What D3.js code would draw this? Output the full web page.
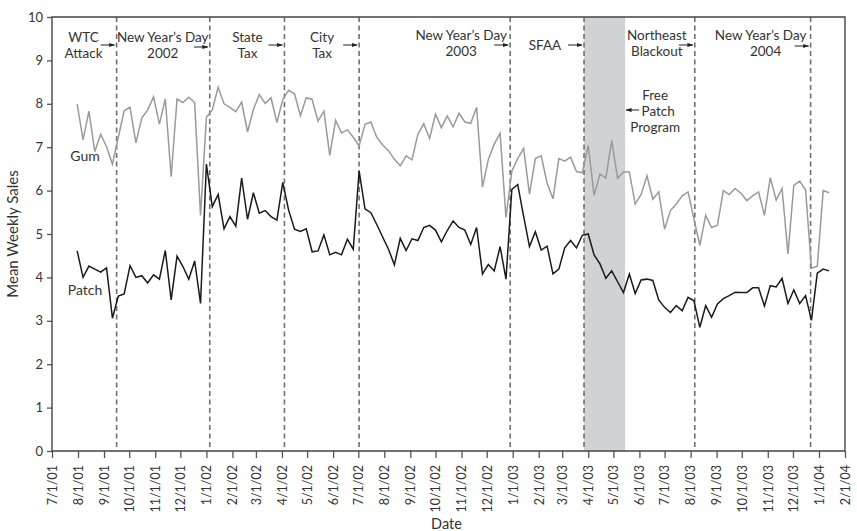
<!DOCTYPE html>
<html>
<head>
<meta charset="utf-8">
<script src="https://cdn.jsdelivr.net/npm/d3@7"></script>
<style>
    body { margin: 0; background: #fff; }
    svg text { font-family: Lato, "Open Sans", sans-serif; fill: #333; }
</style>
</head>
<body>
<div id="chart"></div>
<script>

// == DATA == //
// weekly series, first week starting 7/31/01
const firstWeek = "2001-07-31";

const gumSales = [
    7.99, 7.17, 7.83, 6.90, 7.30, 7.01, 6.61, 7.23, 7.84, 7.92,
    7.10, 7.67, 7.86, 8.16, 7.53, 8.11, 6.32, 8.11, 8.03, 8.15,
    8.03, 5.43, 7.69, 7.86, 8.38, 8.00, 7.92, 7.82, 8.04, 7.35,
    7.87, 8.21, 8.01, 8.14, 7.57, 8.10, 8.31, 8.23, 7.73, 8.14,
    8.10, 7.60, 7.83, 6.81, 7.62, 7.33, 7.40, 7.23, 7.03, 7.53,
    7.58, 7.23, 7.05, 6.92, 6.72, 6.57, 6.80, 6.71, 7.30, 7.54,
    7.20, 7.76, 7.45, 7.72, 7.47, 7.78, 7.58, 7.55, 7.92, 6.08,
    6.72, 7.07, 7.32, 5.38, 6.45, 6.74, 6.97, 5.92, 6.74, 6.80,
    6.17, 5.81, 6.74, 6.68, 6.77, 6.44, 6.41, 7.04, 5.89, 6.38,
    6.29, 7.15, 6.28, 6.43, 6.43, 5.69, 5.91, 6.34, 5.80, 5.97,
    5.11, 5.54, 5.69, 5.88, 5.97, 5.34, 4.74, 5.43, 5.15, 5.20,
    6.00, 5.91, 6.05, 5.94, 5.77, 5.88, 5.97, 5.43, 6.30, 5.78,
    6.05, 4.54, 6.12, 6.22, 6.02, 4.21, 4.26, 6.00, 5.95
];

const patchSales = [
    4.61, 4.00, 4.26, 4.19, 4.12, 4.22, 3.06, 3.57, 3.62, 4.27,
    4.00, 4.04, 3.87, 4.06, 3.96, 4.62, 3.48, 4.49, 4.25, 3.96,
    4.38, 3.40, 6.61, 5.63, 5.91, 5.12, 5.40, 5.18, 6.29, 5.34,
    5.95, 5.48, 5.54, 5.40, 5.32, 6.19, 5.55, 5.11, 5.06, 5.12,
    4.59, 4.61, 4.98, 4.52, 4.58, 4.52, 4.88, 4.65, 6.45, 5.58,
    5.49, 5.22, 4.93, 4.65, 4.29, 4.90, 4.62, 4.89, 4.85, 5.15,
    5.20, 5.09, 4.82, 5.08, 5.30, 5.15, 5.09, 4.76, 5.15, 4.08,
    4.30, 4.15, 4.71, 3.96, 6.03, 6.14, 5.41, 4.71, 5.05, 4.63,
    4.72, 4.08, 4.19, 4.68, 4.85, 4.68, 4.97, 5.00, 4.52, 4.31,
    3.98, 4.15, 3.90, 3.65, 4.08, 3.63, 3.94, 3.96, 3.93, 3.48,
    3.31, 3.19, 3.35, 3.23, 3.54, 3.46, 2.85, 3.35, 3.08, 3.39,
    3.51, 3.58, 3.66, 3.65, 3.65, 3.76, 3.76, 3.34, 3.81, 3.78,
    3.98, 3.40, 3.71, 3.40, 3.58, 3.01, 4.10, 4.19, 4.15
];

const xDomain = ["2001-07-01", "2004-02-01"];
const yTicks = [0, 1, 2, 3, 4, 5, 6, 7, 8, 9, 10];

const eventDates = ["2001-09-16", "2002-01-05", "2002-04-04", "2002-07-02",
    "2002-12-29", "2003-03-27", "2003-08-06", "2003-12-22"];
const eventLabels = [
    ["WTC", "Attack"], ["New Year\u2019s Day", "2002"], ["State", "Tax"], ["City", "Tax"],
    ["New Year\u2019s Day", "2003"], ["SFAA"], ["Northeast", "Blackout"], ["New Year\u2019s Day", "2004"]
];

const freePatchDates = ["2003-03-27", "2003-05-15"];
const freePatchLabel = ["Free", "Patch", "Program"];

const seriesNames = ["Gum", "Patch"];


class SalesChart {

    constructor(parentElement) {
        this.parentElement = parentElement;
        this.parse = d3.timeParse("%Y-%m-%d");
        this.initVis();
    }

    initVis() {
        let vis = this;

        vis.margin = {top: 17, right: 12, bottom: 80, left: 52};
        vis.width = 857 - vis.margin.left - vis.margin.right;
        vis.height = 531 - vis.margin.top - vis.margin.bottom;

        vis.svg = d3.select("#" + vis.parentElement).append("svg")
            .attr("width", 857)
            .attr("height", 531)
            .append("g")
            .attr("transform", `translate(${vis.margin.left}, ${vis.margin.top})`);

        // arrow head
        vis.svg.append("defs").append("marker")
            .attr("id", "arrow")
            .attr("viewBox", "0 0 10 10")
            .attr("refX", 9).attr("refY", 5)
            .attr("markerWidth", 6).attr("markerHeight", 6)
            .attr("orient", "auto-start-reverse")
            .append("path")
            .attr("d", "M0,1.5L10,5L0,8.5z")
            .attr("fill", "#222");

        // scales
        vis.x = d3.scaleTime()
            .domain(xDomain.map(vis.parse))
            .range([0, vis.width]);

        vis.y = d3.scaleLinear()
            .domain([0, 10])
            .range([vis.height, 0]);

        vis.wrangleData();
    }

    wrangleData() {
        let vis = this;
        let start = vis.parse(firstWeek);

        vis.gum = gumSales.map((v, i) => ({date: d3.timeDay.offset(start, 7 * i), value: v}));
        vis.patch = patchSales.map((v, i) => ({date: d3.timeDay.offset(start, 7 * i), value: v}));

        vis.updateVis();
    }

    updateVis() {
        let vis = this;

        // == SHADED FREE PATCH PERIOD == //
        let fp = freePatchDates.map(vis.parse);
        vis.svg.append("rect")
            .attr("x", vis.x(fp[0]))
            .attr("y", 0)
            .attr("width", vis.x(fp[1]) - vis.x(fp[0]))
            .attr("height", vis.height)
            .attr("fill", "#d1d2d4");

        // == EVENT LINES == //
        vis.svg.selectAll(".event-line")
            .data(eventDates.map(vis.parse))
            .enter().append("line")
            .attr("class", "event-line")
            .attr("x1", d => vis.x(d)).attr("x2", d => vis.x(d))
            .attr("y1", 0).attr("y2", vis.height)
            .attr("stroke", "#707070")
            .attr("stroke-width", 1.6)
            .attr("stroke-dasharray", "5,3.5");

        // == AXES == //
        let yAxis = d3.axisLeft(vis.y)
            .tickValues(yTicks)
            .tickSize(5)
            .tickPadding(4);

        let yG = vis.svg.append("g").attr("class", "y-axis").call(yAxis);
        yG.select(".domain").remove();
        yG.selectAll("line").attr("stroke", "#555").attr("stroke-width", 1.3);
        yG.selectAll("text").style("font-size", "13px").attr("fill", "#333");

        let xAxis = d3.axisBottom(vis.x)
            .ticks(d3.timeMonth.every(1))
            .tickFormat(d3.timeFormat("%-m/%-d/%y"))
            .tickSize(7);

        let xG = vis.svg.append("g").attr("class", "x-axis")
            .attr("transform", `translate(0, ${vis.height})`)
            .call(xAxis);
        xG.select(".domain").remove();
        xG.selectAll("line").attr("stroke", "#555").attr("stroke-width", 1.3);
        xG.selectAll("text")
            .style("font-size", "12.5px")
            .attr("fill", "#333")
            .attr("transform", "rotate(-90)")
            .attr("x", -14)
            .attr("y", 0)
            .attr("dy", ".35em")
            .attr("text-anchor", "end");

        // frame
        vis.svg.append("path")
            .attr("d", `M0,${vis.height}H${vis.width}V0H0Z`)
            .attr("fill", "none")
            .attr("stroke", "#444")
            .attr("stroke-width", 1.4);

        // == LINES == //
        let line = d3.line()
            .x(d => vis.x(d.date))
            .y(d => vis.y(d.value));

        vis.svg.append("path")
            .datum(vis.gum)
            .attr("d", line)
            .attr("fill", "none")
            .attr("stroke", "#9a9a9a")
            .attr("stroke-width", 1.5)
            .attr("stroke-linejoin", "miter");

        vis.svg.append("path")
            .datum(vis.patch)
            .attr("d", line)
            .attr("fill", "none")
            .attr("stroke", "#1a1a1a")
            .attr("stroke-width", 1.5);

        // series labels
        let labelPos = [vis.y(6.8), vis.y(3.7)];
        vis.svg.selectAll(".series-label")
            .data(seriesNames)
            .enter().append("text")
            .attr("class", "series-label")
            .attr("x", 33)
            .attr("y", (d, i) => labelPos[i])
            .attr("text-anchor", "middle")
            .attr("dy", ".35em")
            .style("font-size", "14px")
            .text(d => d);

        // == ANNOTATIONS == //
        // label centre offset from each event line, first baseline and arrow height
        let layout = [
            {dx: -33, y: 25, ay: 28}, {dx: -47, y: 25, ay: 30}, {dx: -37, y: 25, ay: 28},
            {dx: -37, y: 25, ay: 28}, {dx: -49, y: 23, ay: 28}, {dx: -39, y: 33, ay: 28},
            {dx: -38, y: 23, ay: 28}, {dx: -50, y: 23, ay: 29}
        ];

        eventDates.map(vis.parse).forEach((d, i) => {
            let lx = vis.x(d);
            let t = vis.svg.append("text")
                .attr("text-anchor", "middle")
                .style("font-size", "13.5px");
            eventLabels[i].forEach((s, j) => {
                t.append("tspan")
                    .attr("x", lx + layout[i].dx + (j > 0 && i === 7 ? 5 : 0))
                    .attr("y", layout[i].y + j * 16)
                    .text(s);
            });
            vis.svg.append("line")
                .attr("x1", lx - 16).attr("x2", lx - 2)
                .attr("y1", layout[i].ay).attr("y2", layout[i].ay)
                .attr("stroke", "#222")
                .attr("stroke-width", 1)
                .attr("marker-end", "url(#arrow)");
        });

        // free patch program
        let fx = vis.x(fp[1]);
        let ft = vis.svg.append("text")
            .attr("text-anchor", "middle")
            .style("font-size", "13.5px");
        freePatchLabel.forEach((s, j) => {
            ft.append("tspan")
                .attr("x", fx + 30 + (j === 1 ? 3 : 0))
                .attr("y", 83 + j * 16)
                .text(s);
        });
        vis.svg.append("line")
            .attr("x1", fx + 14).attr("x2", fx + 1)
            .attr("y1", 93).attr("y2", 93)
            .attr("stroke", "#222")
            .attr("stroke-width", 1)
            .attr("marker-end", "url(#arrow)");

        // == AXIS TITLES == //
        vis.svg.append("text")
            .attr("transform", `translate(-34, ${vis.height / 2}) rotate(-90)`)
            .attr("text-anchor", "middle")
            .style("font-size", "15px")
            .text("Mean Weekly Sales");

        vis.svg.append("text")
            .attr("x", vis.width / 2 - 2)
            .attr("y", vis.height + 78)
            .attr("text-anchor", "middle")
            .style("font-size", "14.5px")
            .text("Date");
    }
}

new SalesChart("chart");

</script>
</body>
</html>
